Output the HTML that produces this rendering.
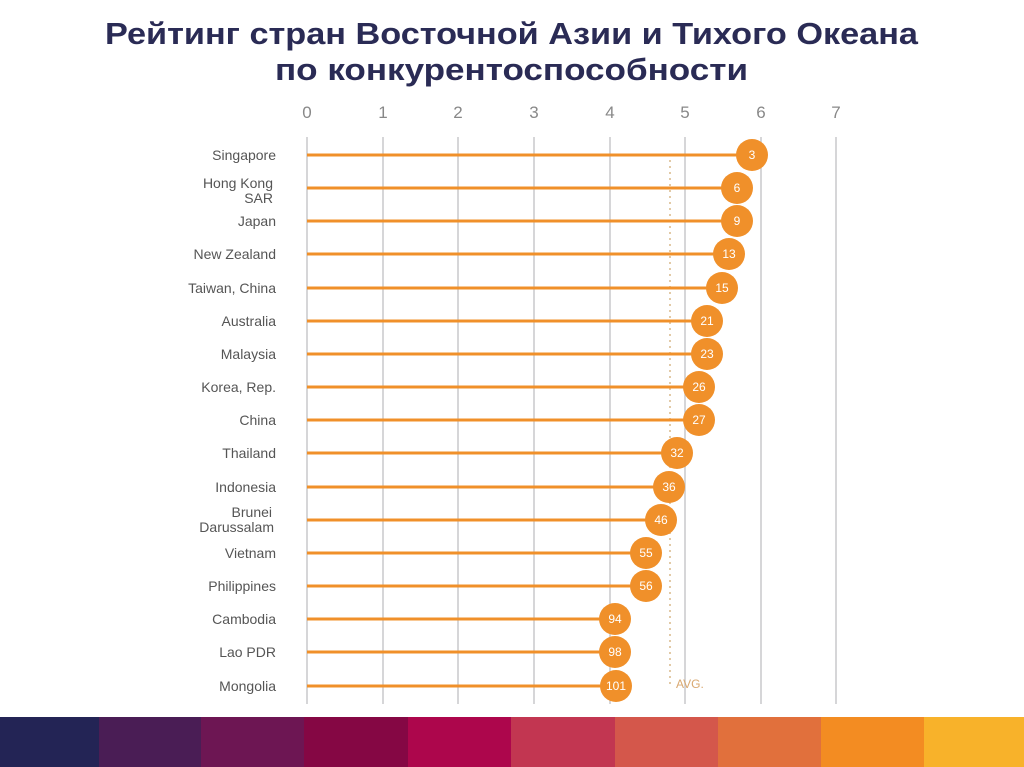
<!DOCTYPE html>
<html><head><meta charset="utf-8"><style>
html,body{margin:0;padding:0;background:#fff;width:1024px;height:767px;overflow:hidden}
</style></head><body>
<svg width="1024" height="767" viewBox="0 0 1024 767" xmlns="http://www.w3.org/2000/svg" font-family="Liberation Sans, sans-serif">
<text x="105" y="44" font-size="31" font-weight="bold" fill="#2a2b55" textLength="813" lengthAdjust="spacingAndGlyphs">Рейтинг стран Восточной Азии и Тихого Океана</text>
<text x="275" y="80" font-size="31" font-weight="bold" fill="#2a2b55" textLength="473" lengthAdjust="spacingAndGlyphs">по конкурентоспособности</text>
<g font-size="17" fill="#888" text-anchor="middle">
<text x="307" y="118">0</text><text x="383" y="118">1</text><text x="458" y="118">2</text><text x="534" y="118">3</text><text x="610" y="118">4</text><text x="685" y="118">5</text><text x="761" y="118">6</text><text x="836" y="118">7</text>
</g>
<g stroke="#c8c8cc" stroke-width="1.5">
<line x1="307" y1="137" x2="307" y2="704"/><line x1="383" y1="137" x2="383" y2="704"/><line x1="458" y1="137" x2="458" y2="704"/><line x1="534" y1="137" x2="534" y2="704"/><line x1="610" y1="137" x2="610" y2="704"/><line x1="685" y1="137" x2="685" y2="704"/><line x1="761" y1="137" x2="761" y2="704"/><line x1="836" y1="137" x2="836" y2="704"/>
</g>
<line x1="670" y1="160" x2="670" y2="688" stroke="#d9b98a" stroke-width="1.5" stroke-dasharray="2,4"/>
<text x="676" y="688" font-size="12" fill="#d9a870">AVG.</text>
<g font-size="14" fill="#555" text-anchor="end">
<text x="276" y="160">Singapore</text>
<text x="273" y="188">Hong Kong</text><text x="273" y="203">SAR</text>
<text x="276" y="226">Japan</text>
<text x="276" y="259">New Zealand</text>
<text x="276" y="293">Taiwan, China</text>
<text x="276" y="326">Australia</text>
<text x="276" y="359">Malaysia</text>
<text x="276" y="392">Korea, Rep.</text>
<text x="276" y="425">China</text>
<text x="276" y="458">Thailand</text>
<text x="276" y="492">Indonesia</text>
<text x="272" y="517">Brunei</text><text x="274" y="532">Darussalam</text>
<text x="276" y="558">Vietnam</text>
<text x="276" y="591">Philippines</text>
<text x="276" y="624">Cambodia</text>
<text x="276" y="657">Lao PDR</text>
<text x="276" y="691">Mongolia</text>
</g>
<g stroke="#f0902a" stroke-width="3">
<line x1="307" y1="155" x2="752" y2="155"/><line x1="307" y1="188" x2="737" y2="188"/><line x1="307" y1="221" x2="737" y2="221"/><line x1="307" y1="254" x2="729" y2="254"/><line x1="307" y1="288" x2="722" y2="288"/><line x1="307" y1="321" x2="707" y2="321"/><line x1="307" y1="354" x2="707" y2="354"/><line x1="307" y1="387" x2="699" y2="387"/><line x1="307" y1="420" x2="699" y2="420"/><line x1="307" y1="453" x2="677" y2="453"/><line x1="307" y1="487" x2="669" y2="487"/><line x1="307" y1="520" x2="661" y2="520"/><line x1="307" y1="553" x2="646" y2="553"/><line x1="307" y1="586" x2="646" y2="586"/><line x1="307" y1="619" x2="615" y2="619"/><line x1="307" y1="652" x2="615" y2="652"/><line x1="307" y1="686" x2="616" y2="686"/>
</g>
<g fill="#f0902a">
<circle cx="752" cy="155" r="16"/><circle cx="737" cy="188" r="16"/><circle cx="737" cy="221" r="16"/><circle cx="729" cy="254" r="16"/><circle cx="722" cy="288" r="16"/><circle cx="707" cy="321" r="16"/><circle cx="707" cy="354" r="16"/><circle cx="699" cy="387" r="16"/><circle cx="699" cy="420" r="16"/><circle cx="677" cy="453" r="16"/><circle cx="669" cy="487" r="16"/><circle cx="661" cy="520" r="16"/><circle cx="646" cy="553" r="16"/><circle cx="646" cy="586" r="16"/><circle cx="615" cy="619" r="16"/><circle cx="615" cy="652" r="16"/><circle cx="616" cy="686" r="16"/>
</g>
<g font-size="12" fill="#fff" text-anchor="middle">
<text x="752" y="159">3</text><text x="737" y="192">6</text><text x="737" y="225">9</text><text x="729" y="258">13</text><text x="722" y="292">15</text><text x="707" y="325">21</text><text x="707" y="358">23</text><text x="699" y="391">26</text><text x="699" y="424">27</text><text x="677" y="457">32</text><text x="669" y="491">36</text><text x="661" y="524">46</text><text x="646" y="557">55</text><text x="646" y="590">56</text><text x="615" y="623">94</text><text x="615" y="656">98</text><text x="616" y="690">101</text>
</g>
<rect x="0" y="717" width="100" height="50" fill="#232455"/>
<rect x="99" y="717" width="103" height="50" fill="#4a1d55"/>
<rect x="201" y="717" width="104" height="50" fill="#6d1653"/>
<rect x="304" y="717" width="105" height="50" fill="#850744"/>
<rect x="408" y="717" width="104" height="50" fill="#ad064c"/>
<rect x="511" y="717" width="105" height="50" fill="#c23651"/>
<rect x="615" y="717" width="104" height="50" fill="#d4574b"/>
<rect x="718" y="717" width="104" height="50" fill="#e1703c"/>
<rect x="821" y="717" width="104" height="50" fill="#f38c22"/>
<rect x="924" y="717" width="100" height="50" fill="#f8b22a"/>
</svg>
</body></html>
